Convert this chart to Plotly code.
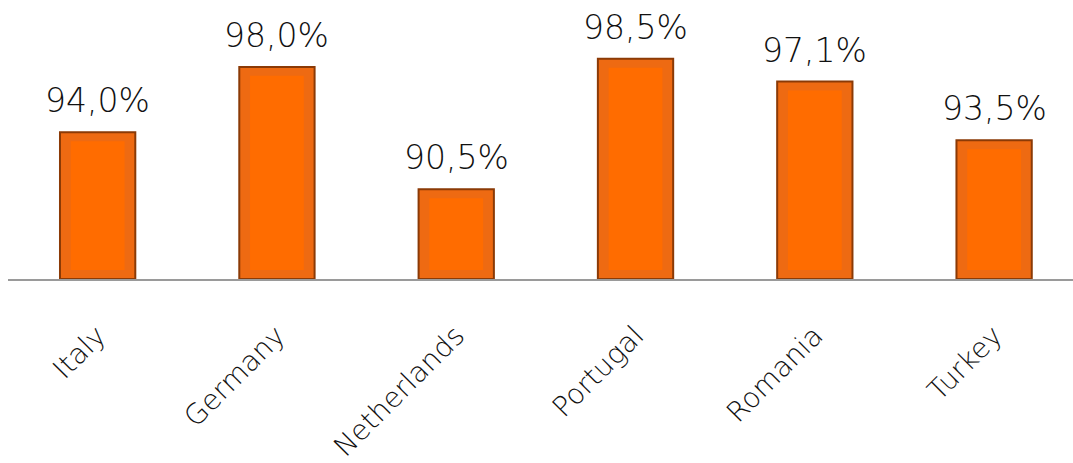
import plotly.graph_objects as go

countries = ["Italy", "Germany", "Netherlands", "Portugal", "Romania", "Turkey"]
shares = [94.0, 98.0, 90.5, 98.5, 97.1, 93.5]
value_labels = ["94,0%", "98,0%", "90,5%", "98,5%", "97,1%", "93,5%"]

axis_floor = 85.0
axis_ceiling = 102.1
bevel = 0.55  # inset of the inner face, in axis units

FONT = "Century Gothic, DejaVu Sans, sans-serif"

fig = go.Figure()

# outer frame of each bar
fig.add_trace(go.Bar(
    x=countries, y=[v - axis_floor for v in shares], base=axis_floor,
    width=0.42,
    marker=dict(color="#EE6A12", line=dict(color="#8B3A06", width=2)),
    hoverinfo="skip", showlegend=False,
))
# inner raised face
fig.add_trace(go.Bar(
    x=countries, y=[v - axis_floor - 2 * bevel for v in shares], base=axis_floor + bevel,
    width=0.30,
    marker=dict(color="#FF6C00", line=dict(width=0)),
    hoverinfo="skip", showlegend=False,
))

for c, v, t in zip(countries, shares, value_labels):
    fig.add_annotation(
        x=c, y=v, text=t, showarrow=False, yanchor="bottom", yshift=10,
        font=dict(family=FONT, size=33, color="#111111", weight=200),
    )

fig.update_layout(
    width=1073, height=463,
    margin=dict(l=8, r=0, t=0, b=184, autoexpand=False),
    paper_bgcolor="white", plot_bgcolor="white",
    barmode="overlay",
    xaxis=dict(
        range=[-0.5, 5.44], automargin=False,
        showline=True, linecolor="#9A9A9A", linewidth=2,
        showgrid=False, zeroline=False,
        tickangle=-45, ticks="", ticklabelstandoff=27,
        tickfont=dict(family=FONT, size=28, color="#111111", weight=200),
    ),
    yaxis=dict(range=[axis_floor, axis_ceiling], visible=False, showgrid=False,
               automargin=False),
)

fig.write_html("out.html")
